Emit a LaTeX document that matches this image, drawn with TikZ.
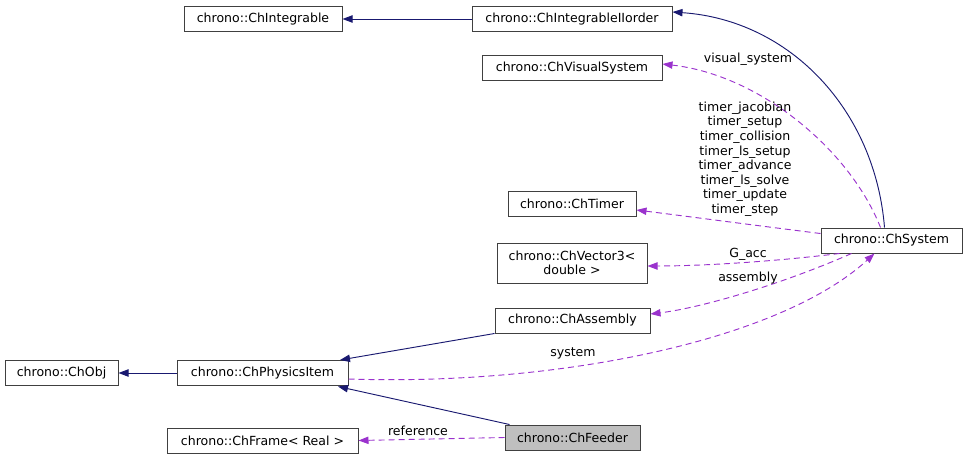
\documentclass[tikz,border=0pt]{standalone}
\usepackage{fontspec}
\setmainfont{DejaVu Sans}
\usetikzlibrary{arrows.meta,calc}
\definecolor{navyedge}{RGB}{25,25,112}
\definecolor{purpedge}{RGB}{154,50,205}
\definecolor{boxline}{RGB}{64,64,64}
\definecolor{grayfill}{RGB}{191,191,191}
\begin{document}
\begin{tikzpicture}[x=0.75pt,y=-0.75pt,
  box/.style={draw=boxline, line width=0.75pt, fill=white, inner sep=0pt, minimum height=18.75pt, font=\fontsize{9.4}{10.9}\selectfont, align=center},
  inh/.style={draw=navyedge, line width=0.7pt, -{Triangle[length=7.5pt,width=5.5pt]}},
  use/.style={draw=purpedge, line width=0.7pt, dash pattern=on 4.5pt off 3pt, -{Triangle[length=7.5pt,width=5.5pt]}},
  lbl/.style={font=\fontsize{9.4}{10.9}\selectfont, align=center, inner sep=0pt}]
\useasboundingbox (0,0) rectangle (967,460);
% nodes
\node[box, minimum width=118.5pt] (integ) at (263,19) {chrono::ChIntegrable};
\node[box, minimum width=150pt] (iiorder) at (572,19) {chrono::ChIntegrableIIorder};
\node[box, minimum width=135pt] (visual) at (572,68.5) {chrono::ChVisualSystem};
\node[box, minimum width=96pt] (timer) at (572,203.5) {chrono::ChTimer};
\node[box, minimum width=112.5pt, minimum height=30pt] (vec) at (572,263) {chrono::ChVector3<\\double >};
\node[box, minimum width=116.25pt] (assembly) at (572.5,320.5) {chrono::ChAssembly};
\node[box, minimum width=105.75pt] (system) at (891.5,240.5) {chrono::ChSystem};
\node[box, minimum width=84.75pt] (obj) at (61.5,373) {chrono::ChObj};
\node[box, minimum width=128.25pt] (phys) at (262.5,373) {chrono::ChPhysicsItem};
\node[box, minimum width=143.25pt] (frame) at (262.5,440.5) {chrono::ChFrame< Real >};
\node[box, minimum width=101.25pt, fill=grayfill] (feeder) at (572.5,437.5) {chrono::ChFeeder};
% inheritance
\draw[inh] (iiorder.west) -- (integ.east);
\draw[inh] ($(system.north)+(-7,0)$) .. controls (875,110) and (790,20) .. (iiorder.east |- 0,12);
\draw[inh] (phys.west) -- (obj.east);
\draw[inh] (assembly.south west) -- (340,360);
\draw[inh] ($(feeder.north west)+(5,0)$) -- (338,386.5);
% usage
\draw[use] ($(system.north)+(-11,0)$) .. controls (850,150) and (760,75) .. (visual.east |- 0,64);
\draw[use] ($(system.west)+(0,-7)$) .. controls (760,226) and (700,218) .. (timer.east |- 0,210);
\draw[use] ($(system.south)+(-52,0)$) .. controls (770,262) and (700,266) .. (vec.east |- 0,266);
\draw[use] ($(system.south)+(-40,0)$) .. controls (780,285) and (700,308) .. (assembly.east |- 0,314);
\draw[use] (phys.east |- 0,379) .. controls (560,386) and (780,340) .. ($(system.south)+(-17,0)$);
\draw[use] (feeder.west) -- (frame.east);
% labels
\node[lbl] at (748,59) {visual\_system};
\node[lbl] at (745,159) {timer\_jacobian\\timer\_setup\\timer\_collision\\timer\_ls\_setup\\timer\_advance\\timer\_ls\_solve\\timer\_update\\timer\_step};
\node[lbl] at (748,254) {G\_acc};
\node[lbl] at (748,278) {assembly};
\node[lbl] at (573,353) {system};
\node[lbl] at (418,431) {reference};
\end{tikzpicture}
\end{document}
